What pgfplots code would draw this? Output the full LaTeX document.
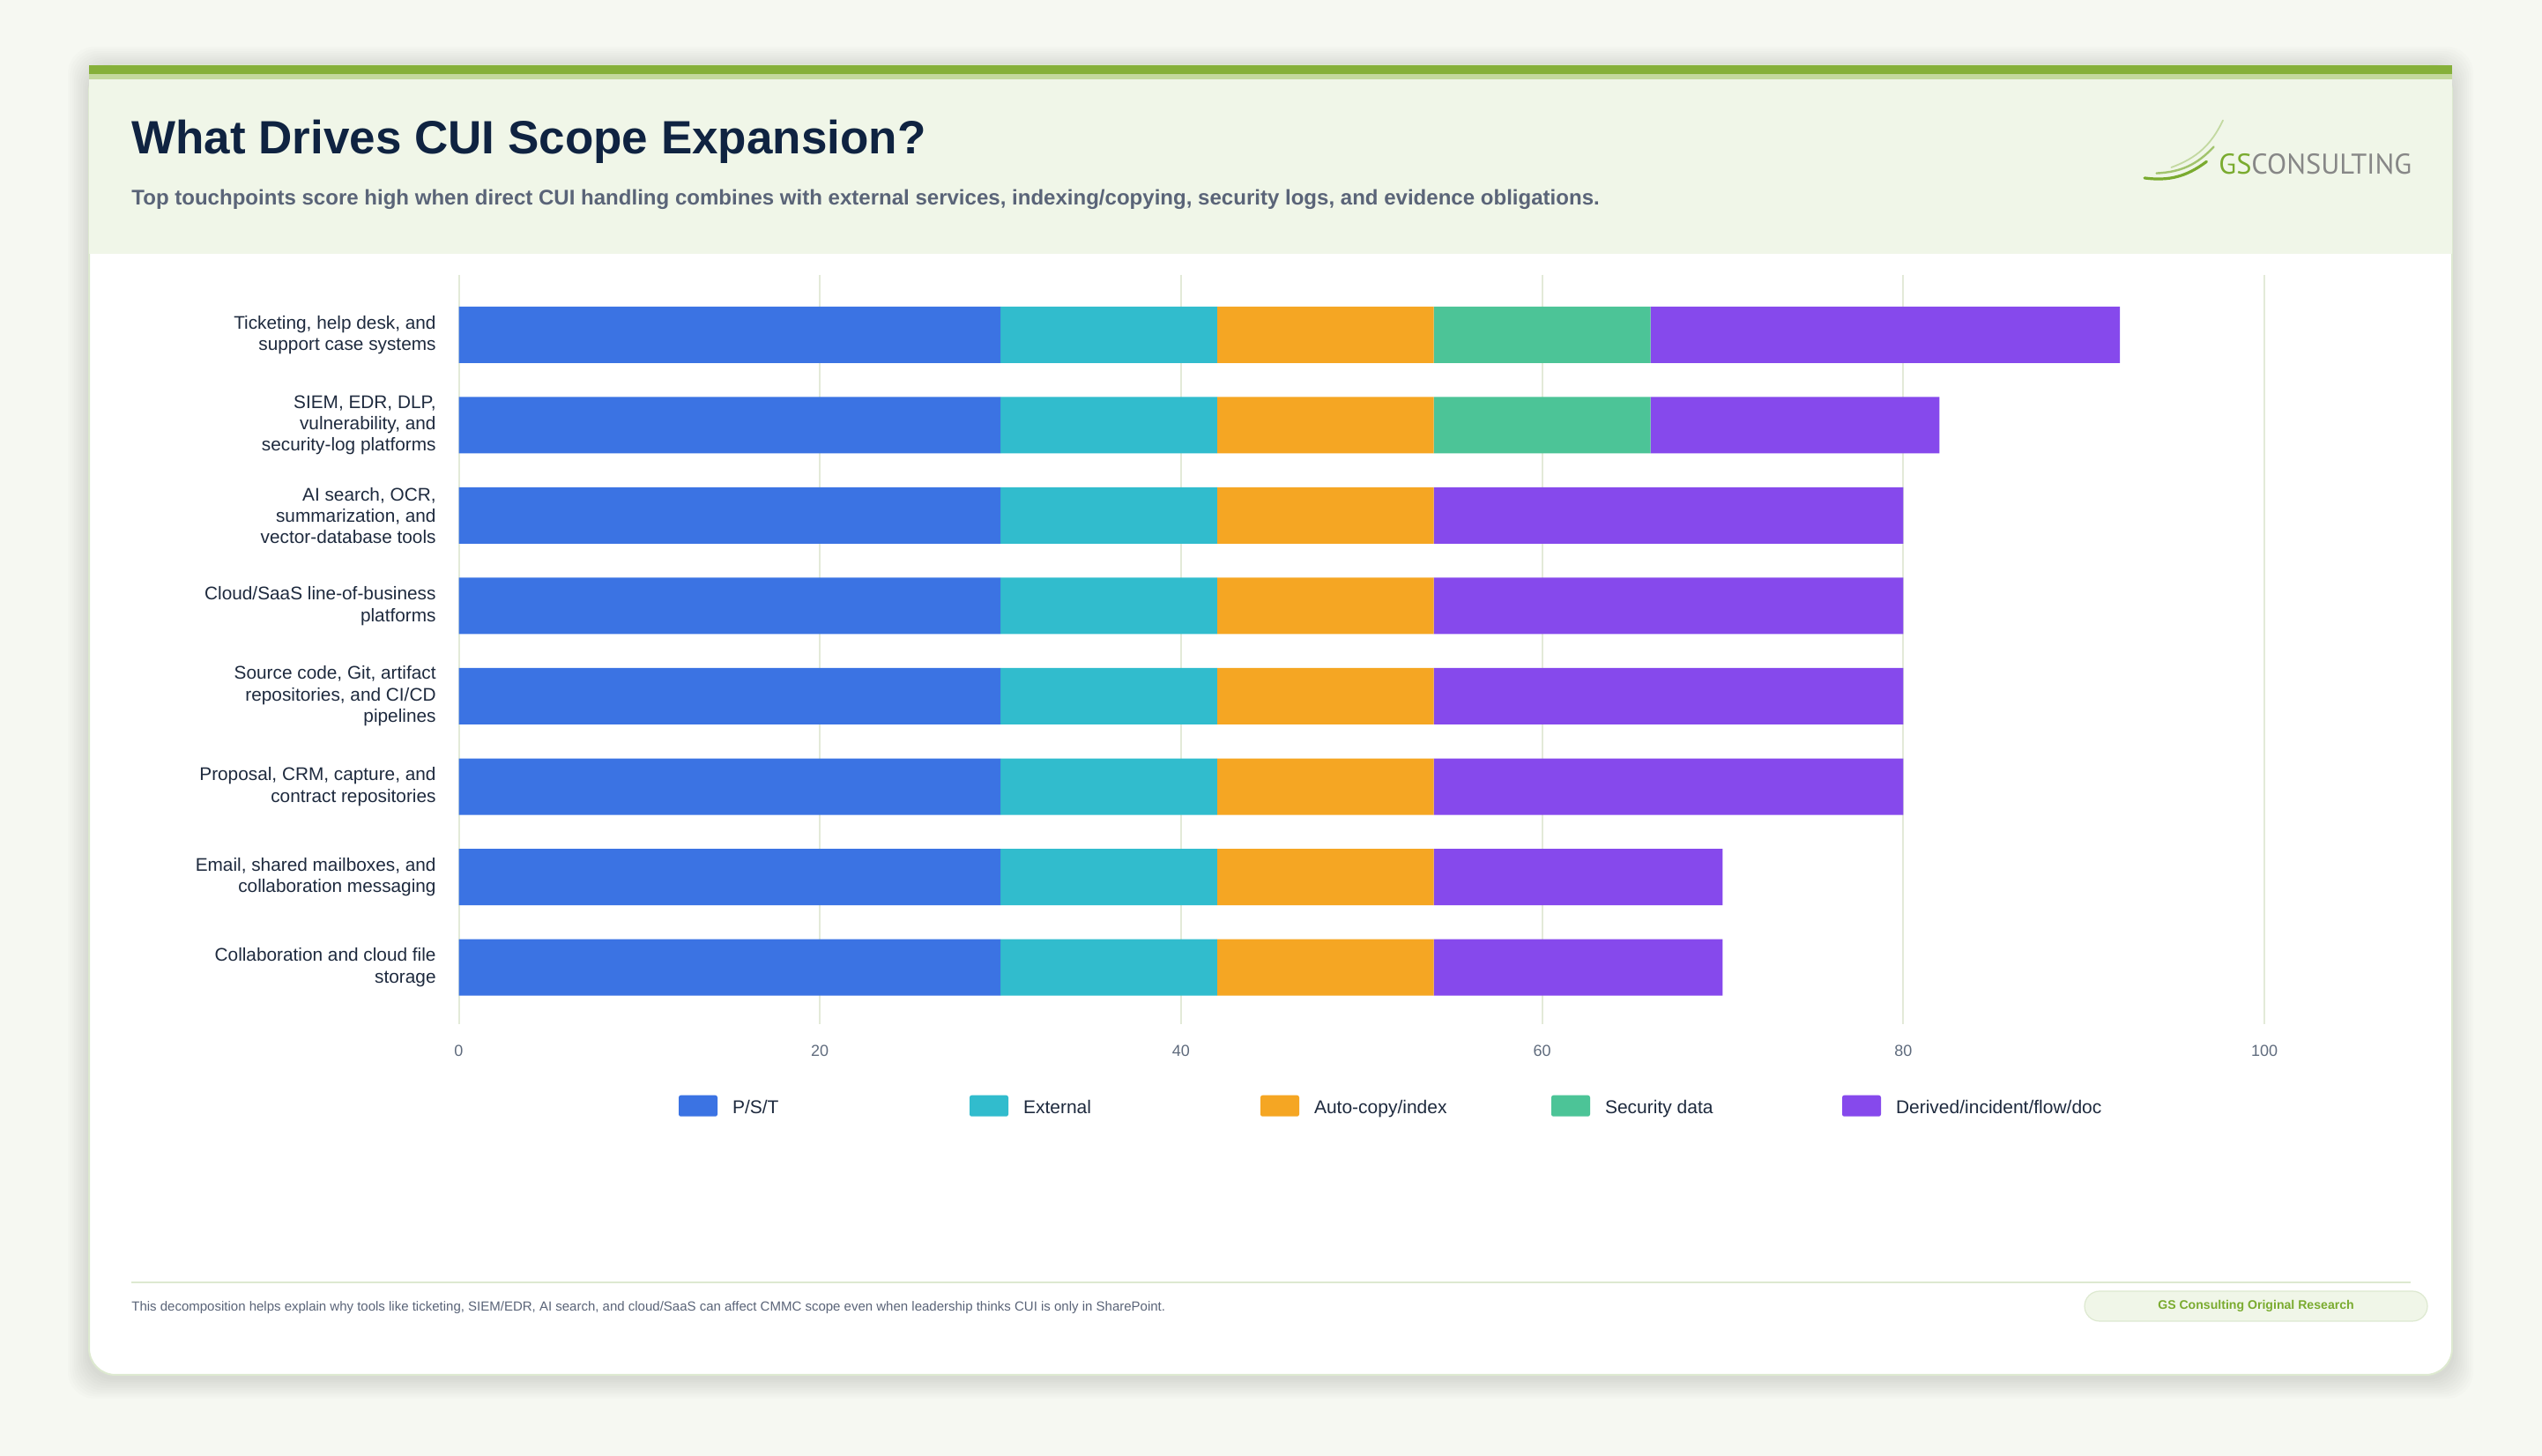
\documentclass[border=0pt]{standalone}
\usepackage{pgfplots}
\pgfplotsset{compat=1.18}
\usepackage{pgfplotstable}
\usepackage{fontspec}
\setmainfont{Liberation Sans}
\newfontfamily\logofont{PT Sans}

\definecolor{pagebg}{HTML}{F6F8F2}
\definecolor{headbg}{HTML}{F0F6E8}
\definecolor{stripe}{HTML}{86B03A}
\definecolor{stripelight}{HTML}{C4D99E}
\definecolor{cardline}{HTML}{DDE9D0}
\definecolor{gridc}{HTML}{E3EAD8}
\definecolor{navy}{HTML}{0F2341}
\definecolor{labelc}{HTML}{1E2A3E}
\definecolor{subc}{HTML}{5A6478}
\definecolor{tickc}{HTML}{5F6B7D}
\definecolor{gsgreen}{HTML}{7AAB2F}
\definecolor{gsgray}{HTML}{878787}
\definecolor{cPST}{HTML}{3B73E3}
\definecolor{cExt}{HTML}{31BCCD}
\definecolor{cAuto}{HTML}{F5A623}
\definecolor{cSec}{HTML}{4CC497}
\definecolor{cDer}{HTML}{8649EC}

% Score components per touchpoint (idx 0 = top row)
\pgfplotstableread{
idx pst ext auto sec der
0   30  12  12   12  26
1   30  12  12   12  16
2   30  12  12   0   26
3   30  12  12   0   26
4   30  12  12   0   26
5   30  12  12   0   26
6   30  12  12   0   16
7   30  12  12   0   16
}\scoretable

\begin{document}
\begin{tikzpicture}
% page background
\fill[pagebg] (0pt,0pt) rectangle (1442pt,826pt);
% soft card shadow
\foreach \s in {1,...,10}{
  \fill[black, opacity=0.010, rounded corners=15pt]
    ({50.5pt-1.2pt*\s},{46pt-1.2pt*\s-1.5pt}) rectangle ({1391pt+1.2pt*\s},{789pt+1.2pt*\s-1.5pt});
}
% card
\fill[white, draw=cardline, line width=1pt, rounded corners=15pt] (50.5pt,46pt) rectangle (1391pt,789pt);
% header band and stripes
\fill[headbg] (50.5pt,682pt) rectangle (1391pt,781pt);
\fill[stripelight] (50.5pt,781pt) rectangle (1391pt,784pt);
\fill[stripe] (50.5pt,784pt) rectangle (1391pt,789pt);

% title and subtitle
\node[anchor=base west, inner sep=0pt, text=navy, font=\fontsize{26.5}{32}\selectfont\bfseries]
  at (74.5pt,738.5pt) {What Drives CUI Scope Expansion?};
\node[anchor=base west, inner sep=0pt, text=subc, font=\fontsize{12.02}{14}\selectfont\bfseries]
  at (74.5pt,709.5pt) {Top touchpoints score high when direct CUI handling combines with external services, indexing/copying, security logs, and evidence obligations.};

% logo
\draw[line width=1.6pt, gsgreen, line cap=round] (1216.5pt,725pt) to[bend right=22] (1251.7pt,734.3pt);
\draw[line width=1.2pt, gsgreen!70, line cap=round] (1223.3pt,727.7pt) to[bend right=22] (1255.8pt,742.7pt);
\draw[line width=0.9pt, gsgreen!45, line cap=round] (1231.7pt,731pt) to[bend right=22] (1261pt,757.7pt);
\node[anchor=base west, inner sep=0pt, font=\logofont\fontsize{16.2}{19}\selectfont]
  at (1258.5pt,727pt) {\textcolor{gsgreen}{GS}\textcolor{gsgray}{CONSULTING}};

\begin{axis}[
  at={(260.25pt,245pt)}, anchor=south west,
  scale only axis, width=1024.25pt, height=425pt,
  xmin=0, xmax=100,
  ymin=-0.663, ymax=7.629, y dir=reverse,
  xbar stacked, bar width=32pt,
  legend image code/.code={\fill[#1,draw=none,rounded corners=1.2pt] (0pt,-4.7pt) rectangle (22pt,7.3pt);},
  xtick={0,20,...,100},
  ytick={0,...,7},
  yticklabels={
    {Ticketing, help desk, and\\support case systems},
    {SIEM, EDR, DLP,\\vulnerability, and\\security-log platforms},
    {AI search, OCR,\\summarization, and\\vector-database tools},
    {Cloud/SaaS line-of-business\\platforms},
    {Source code, Git, artifact\\repositories, and CI/CD\\pipelines},
    {Proposal, CRM, capture, and\\contract repositories},
    {Email, shared mailboxes, and\\collaboration messaging},
    {Collaboration and cloud file\\storage}},
  xmajorgrids, ymajorgrids=false,
  grid style={gridc, line width=1pt},
  axis line style={draw=none},
  major tick length=0pt,
  /pgf/number format/assume math mode=true,
  xticklabel style={anchor=center, yshift=-15pt, text=tickc, font=\fontsize{9}{11}\selectfont},
  yticklabel style={align=right, inner sep=0pt, xshift=-12.75pt, text=labelc, font=\fontsize{10.4}{12.2}\selectfont},
  legend columns=5,
  legend style={at={(0.1218,-0.1091)}, anchor=west, draw=none, fill=none,
    inner sep=0pt, outer sep=0pt, text=labelc, font=\fontsize{10.5}{12.5}\selectfont,
    nodes={inner sep=0pt},
    /tikz/every odd column/.append style={column sep=8.5pt},
    /tikz/every even column/.append style={column sep=24.5pt}},
]
\addplot[fill=cPST, draw=none] table[x=pst, y=idx] {\scoretable};
\addlegendentry{\makebox[110pt][l]{P/S/T}}
\addplot[fill=cExt, draw=none] table[x=ext, y=idx] {\scoretable};
\addlegendentry{\makebox[110pt][l]{External}}
\addplot[fill=cAuto, draw=none] table[x=auto, y=idx] {\scoretable};
\addlegendentry{\makebox[110pt][l]{Auto-copy/index}}
\addplot[fill=cSec, draw=none] table[x=sec, y=idx] {\scoretable};
\addlegendentry{\makebox[110pt][l]{Security data}}
\addplot[fill=cDer, draw=none] table[x=der, y=idx] {\scoretable};
\addlegendentry{\makebox[110pt][l]{Derived/incident/flow/doc}}
\end{axis}

% footer
\draw[cardline, line width=1pt] (74.5pt,98.5pt) -- (1367.5pt,98.5pt);
\node[anchor=base west, inner sep=0pt, text=subc, font=\fontsize{7.5}{9}\selectfont]
  at (74.5pt,82.35pt) {This decomposition helps explain why tools like ticketing, SIEM/EDR, AI search, and cloud/SaaS can affect CMMC scope even when leadership thinks CUI is only in SharePoint.};
\fill[headbg, draw=cardline, line width=0.6pt, rounded corners=8.5pt] (1182.5pt,76.5pt) rectangle (1377pt,93.5pt);
\node[inner sep=0pt, text=gsgreen, font=\fontsize{7.05}{8.5}\selectfont\bfseries] at (1279.75pt,85pt) {GS Consulting Original Research};

\pgfresetboundingbox
\useasboundingbox (0pt,0pt) rectangle (1442pt,826pt);
\end{tikzpicture}
\end{document}
